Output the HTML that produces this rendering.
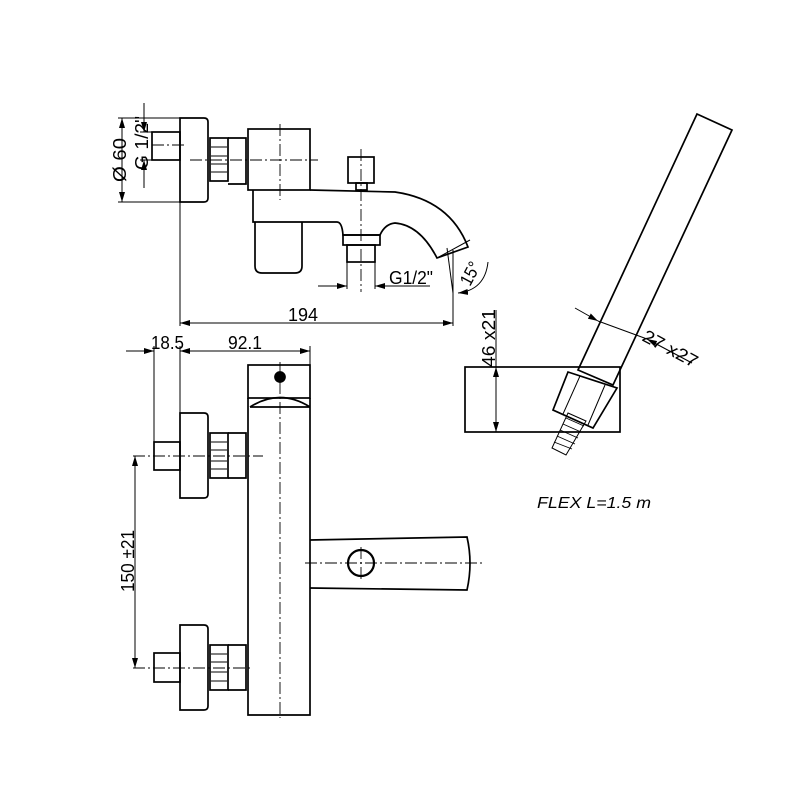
<!DOCTYPE html>
<html><head><meta charset="utf-8"><style>
html,body{margin:0;padding:0;background:#fff;}
svg{display:block;}
text{font-family:"Liberation Sans",sans-serif;fill:#000;}
</style></head><body>
<svg width="800" height="800" viewBox="0 0 800 800" xmlns="http://www.w3.org/2000/svg">
<defs>
<marker id="a" viewBox="0 0 10 6" refX="10" refY="3" markerWidth="10" markerHeight="6" orient="auto-start-reverse" markerUnits="userSpaceOnUse"><path d="M0,0 L10,3 L0,6 z" fill="#000"/></marker>
</defs>
<g fill="none" stroke="#000" stroke-width="1.7">
<path d="M180,118 H204 Q208,118 208,122 V198 Q208,202 204,202 H180 Z"/>
<rect x="152" y="132" width="28" height="28"/>
<rect x="210" y="138" width="18" height="43"/>
<path d="M211,147 H227 M211,156 H227 M211,164 H227 M211,172 H227" stroke-width="1"/>
<path d="M228,138 H246 V184 H228"/>
<rect x="248" y="129" width="62" height="61"/>
<path d="M253,190 V222 H337 Q342,222 343,235 H380 Q385,224 395,223 Q420,225 437,258 L468,247 Q450,200 395,192 L310,190"/>
<path d="M437,258 L470,240" stroke-width="1"/>
<path d="M255,222 V266 Q255,273 262,273 H295 Q302,273 302,266 V222"/>
<rect x="348" y="157" width="26" height="26"/>
<rect x="356" y="183" width="11" height="7"/>
<rect x="343" y="235" width="37" height="10"/>
<rect x="347" y="245" width="28" height="17"/>
<g stroke-width="0.9" stroke-dasharray="12,3,2,3">
<path d="M152,145 H187"/><path d="M190,160 H318"/><path d="M280,124 V200"/><path d="M361,149 V292"/>
</g>
<g stroke-width="1">
<path d="M118,118 H180 M118,202 H180"/>
<path d="M122,118 V202" marker-start="url(#a)" marker-end="url(#a)"/>
<path d="M144,103 V132" marker-end="url(#a)"/><path d="M144,188 V160" marker-end="url(#a)"/>
<path d="M140,132 H152 M140,160 H152"/>
<path d="M347,262 V289 M375,262 V289"/>
<path d="M318,286 H347" marker-end="url(#a)"/><path d="M430,286 H375" marker-end="url(#a)"/>
<path d="M180,202 V326 M453,250 V326"/>
<path d="M180,323 H453" marker-start="url(#a)" marker-end="url(#a)"/>
<path d="M447,248 L453,293"/><path d="M488,262 Q485,290 458,293" marker-end="url(#a)"/>
</g>
<rect x="248" y="365" width="62" height="33"/>
<path d="M248,398 V715 H310 V398 M250,407 Q280,388 310,407 M250,407 H310" />
<circle cx="280" cy="377" r="5" fill="#000"/>
<path d="M180,413 H204 Q208,413 208,417 V494 Q208,498 204,498 H180 Z"/>
<rect x="154" y="442" width="26" height="28"/>
<rect x="210" y="433" width="18" height="45"/>
<path d="M211,442 H227 M211,450 H227 M211,461 H227 M211,469 H227" stroke-width="1"/>
<path d="M228,433 H246 V478 H228"/>
<path d="M180,625 H204 Q208,625 208,629 V706 Q208,710 204,710 H180 Z"/>
<rect x="154" y="653" width="26" height="29"/>
<rect x="210" y="645" width="18" height="45"/>
<path d="M211,654 H227 M211,662 H227 M211,672 H227 M211,681 H227" stroke-width="1"/>
<path d="M228,645 H246 V690 H228"/>
<path d="M310,540 L467,537 Q473,563 467,590 L310,588"/>
<circle cx="361" cy="563" r="13" stroke-width="2.2"/>
<g stroke-width="0.9" stroke-dasharray="12,3,2,3">
<path d="M280,362 V718"/><path d="M133,456 H263"/><path d="M133,668 H253"/><path d="M305,563 H483"/><path d="M361,547 V580"/>
</g>
<g stroke-width="1">
<path d="M126,351 H154" marker-end="url(#a)"/><path d="M210,351 H180" marker-end="url(#a)"/>
<path d="M180,351 H310" marker-end="url(#a)"/>
<path d="M154,346 V442 M180,346 V413 M310,346 V365"/>
<path d="M135,456 V668" marker-start="url(#a)" marker-end="url(#a)"/>
</g>
<rect x="465" y="367" width="155" height="65"/>
<path d="M697,114 L732,130 L613,385 L578,370 Z"/>
<path d="M568,372 L617,388 L593,428 L553,410 Z"/>
<path d="M580,376 L563,414 M605,385 L588,425" stroke-width="1"/>
<path d="M568,413 L586,421 L566,455 L552,448 Z" stroke-width="1"/>
<path d="M566,418 L584,426 M563,424 L581,432 M560,430 L578,438 M557,436 L575,444 M554,442 L572,449" stroke-width="0.9"/>
<g stroke-width="1">
<path d="M496,310 V367"/>
<path d="M496,367 V432" marker-start="url(#a)" marker-end="url(#a)"/>
<path d="M575,308 L598,321" marker-end="url(#a)"/>
<path d="M598,321 L647,339" />
<path d="M692,363 L647,339" marker-end="url(#a)"/>
</g>
</g>
<g font-size="18">
<text transform="translate(126,182) rotate(-90)" textLength="44" lengthAdjust="spacingAndGlyphs">Ø 60</text>
<text transform="translate(148,170) rotate(-90)" textLength="54" lengthAdjust="spacingAndGlyphs">G  1/2"</text>
<text x="389" y="284" textLength="44" lengthAdjust="spacingAndGlyphs">G1/2"</text>
<text transform="translate(470,287) rotate(-62)" textLength="24" lengthAdjust="spacingAndGlyphs">15°</text>
<text x="288" y="321" textLength="30" lengthAdjust="spacingAndGlyphs">194</text>
<text x="151" y="349" textLength="33" lengthAdjust="spacingAndGlyphs">18.5</text>
<text x="228" y="349" textLength="34" lengthAdjust="spacingAndGlyphs">92.1</text>
<text transform="translate(134,592) rotate(-90)" textLength="62" lengthAdjust="spacingAndGlyphs">150 ±21</text>
<text transform="translate(495,367) rotate(-90)" textLength="58" lengthAdjust="spacingAndGlyphs">46 x21</text>
<text transform="translate(641,340) rotate(28)" textLength="60" lengthAdjust="spacingAndGlyphs">27 x27</text>
<text x="537" y="508" font-style="italic" font-size="16" textLength="114" lengthAdjust="spacingAndGlyphs">FLEX  L=1.5  m</text>
</g>
</svg>
</body></html>
